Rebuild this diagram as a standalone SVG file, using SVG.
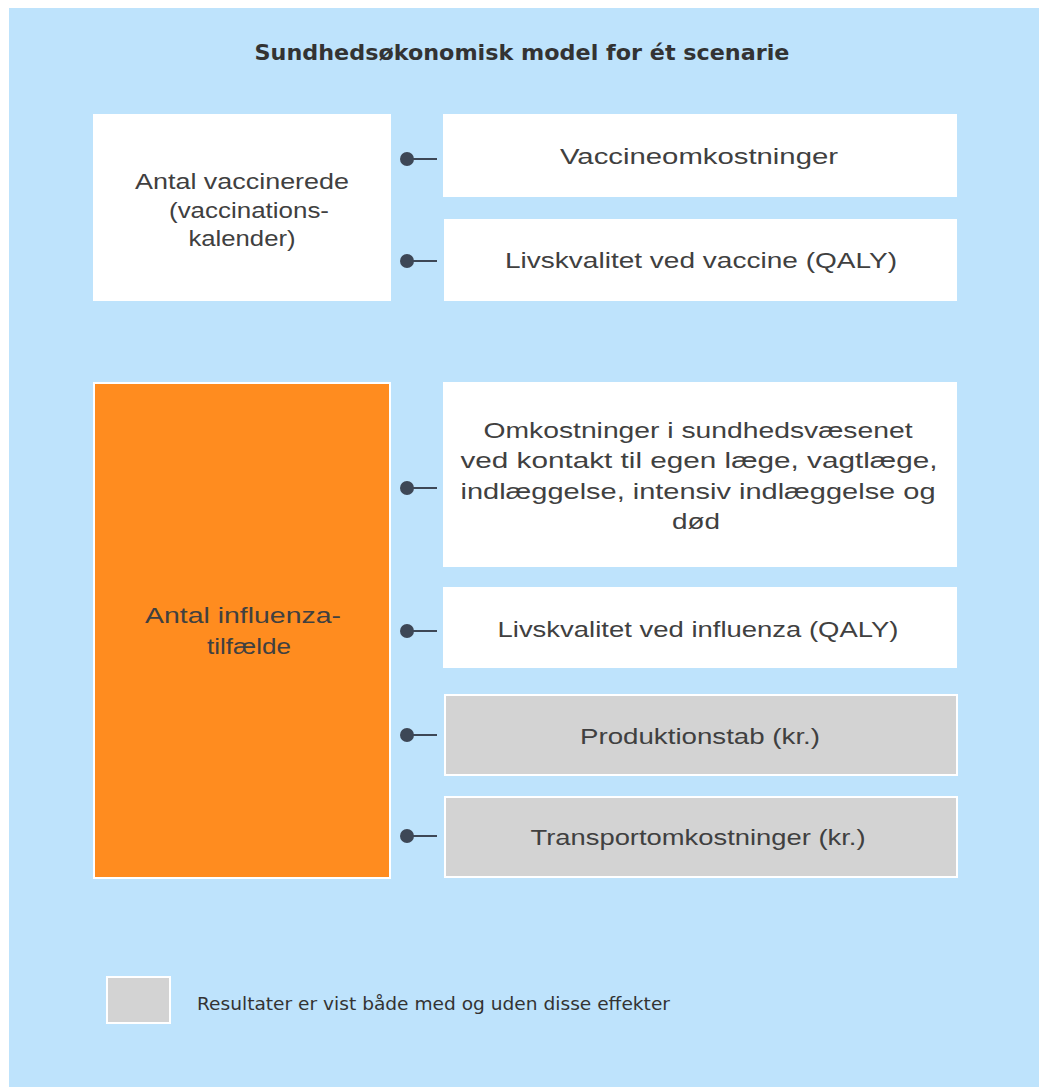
<svg xmlns="http://www.w3.org/2000/svg" width="1039" height="1087" viewBox="0 0 1039 1087">
<style>
.bg{fill:#bee3fc}
.w{fill:#ffffff}
.g{fill:#d3d3d3;stroke:#ffffff;stroke-width:2}
.o{fill:#ff8c1f;stroke:#ffffff;stroke-width:2}
.t{font-family:"Liberation Sans",Arial,sans-serif;font-size:22px;fill:#404040;text-anchor:middle}
.title{font-family:"DejaVu Sans",Verdana,sans-serif;font-size:21px;font-weight:bold;fill:#333333;text-anchor:middle}
.leg{font-family:"DejaVu Sans",Verdana,sans-serif;font-size:17px;fill:#333333}
.c line{stroke:#3d4756;stroke-width:2}
.c circle{fill:#3d4756}
</style>
<rect x="0" y="0" width="1039" height="1087" fill="#ffffff"/>
<rect class="bg" x="9" y="8" width="1030" height="1079"/>
<text class="title" x="522" y="60" textLength="535" lengthAdjust="spacingAndGlyphs">Sundhedsøkonomisk model for ét scenarie</text>

<g id="antal-vaccinerede">
<rect class="w" x="93" y="114" width="298" height="187"/>
<text class="t" x="242" y="189" textLength="214" lengthAdjust="spacingAndGlyphs">Antal vaccinerede</text>
<text class="t" x="249" y="218" textLength="160" lengthAdjust="spacingAndGlyphs">(vaccinations-</text>
<text class="t" x="242" y="246" textLength="107" lengthAdjust="spacingAndGlyphs">kalender)</text>
</g>
<g id="vaccineomkostninger">
<rect class="w" x="443" y="114" width="514" height="83"/>
<text class="t" x="699" y="164" textLength="278" lengthAdjust="spacingAndGlyphs">Vaccineomkostninger</text>
</g>
<g id="livskvalitet-vaccine">
<rect class="w" x="444" y="219" width="513" height="82"/>
<text class="t" x="701" y="268" textLength="392" lengthAdjust="spacingAndGlyphs">Livskvalitet ved vaccine (QALY)</text>
</g>
<g id="antal-influenza">
<rect class="o" x="94" y="383" width="296" height="495"/>
<text class="t" x="243" y="623" textLength="196" lengthAdjust="spacingAndGlyphs">Antal influenza-</text>
<text class="t" x="249" y="654" textLength="84" lengthAdjust="spacingAndGlyphs">tilfælde</text>
</g>
<g id="omkostninger">
<rect class="w" x="443" y="382" width="514" height="185"/>
<text class="t" x="698" y="438" textLength="429" lengthAdjust="spacingAndGlyphs">Omkostninger i sundhedsvæsenet</text>
<text class="t" x="699" y="468" textLength="477" lengthAdjust="spacingAndGlyphs">ved kontakt til egen læge, vagtlæge,</text>
<text class="t" x="698" y="499" textLength="475" lengthAdjust="spacingAndGlyphs">indlæggelse, intensiv indlæggelse og</text>
<text class="t" x="696" y="529" textLength="48" lengthAdjust="spacingAndGlyphs">død</text>
</g>
<g id="livskvalitet-influenza">
<rect class="w" x="443" y="587" width="514" height="81"/>
<text class="t" x="698" y="637" textLength="401" lengthAdjust="spacingAndGlyphs">Livskvalitet ved influenza (QALY)</text>
</g>
<g id="produktionstab">
<rect class="g" x="445" y="695" width="512" height="80"/>
<text class="t" x="700" y="744" textLength="240" lengthAdjust="spacingAndGlyphs">Produktionstab (kr.)</text>
</g>
<g id="transportomkostninger">
<rect class="g" x="445" y="797" width="512" height="80"/>
<text class="t" x="698" y="845" textLength="335" lengthAdjust="spacingAndGlyphs">Transportomkostninger (kr.)</text>
</g>

<g id="connectors" class="c">
<circle cx="407" cy="159" r="7"/><line x1="407" y1="159" x2="437" y2="159"/>
<circle cx="407" cy="261" r="7"/><line x1="407" y1="261" x2="437" y2="261"/>
<circle cx="407" cy="488" r="7"/><line x1="407" y1="488" x2="437" y2="488"/>
<circle cx="407" cy="631" r="7"/><line x1="407" y1="631" x2="437" y2="631"/>
<circle cx="407" cy="735" r="7"/><line x1="407" y1="735" x2="437" y2="735"/>
<circle cx="407" cy="836" r="7"/><line x1="407" y1="836" x2="437" y2="836"/>
</g>

<g id="legend">
<rect class="g" x="107" y="977" width="63" height="46"/>
<text class="leg" x="197" y="1010" textLength="473" lengthAdjust="spacingAndGlyphs">Resultater er vist både med og uden disse effekter</text>
</g>
</svg>
